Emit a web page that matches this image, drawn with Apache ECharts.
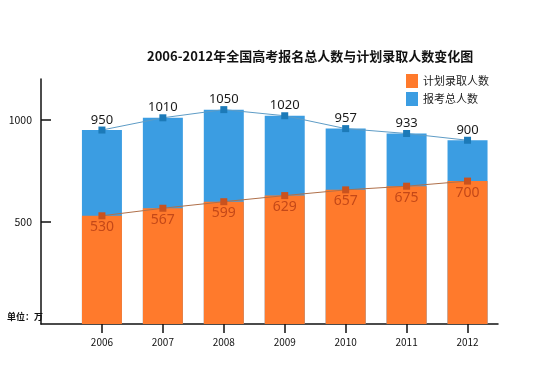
<!DOCTYPE html>
<html><head><meta charset="utf-8">
<script src="https://cdn.jsdelivr.net/npm/echarts@6/dist/echarts.min.js"></script>
<style>html,body{margin:0;padding:0;background:#fff}#c{width:550px;height:367px}</style>
</head><body><div id="c"></div>
<script>
var years = [2006, 2007, 2008, 2009, 2010, 2011, 2012];
var totalApplicants = [950, 1010, 1050, 1020, 957, 933, 900];
var plannedAdmissions = [530, 567, 599, 629, 657, 675, 700];
var yTicks = [500, 1000];
var titleText = '2006-2012年全国高考报名总人数与计划录取人数变化图';
var nameAdmit = '计划录取人数';
var nameTotal = '报考总人数';
var unitText = '单位：万';

function pairs(vals){ return years.map(function(y,i){ return [y, vals[i]]; }); }
var font = "'Noto Sans CJK SC', 'Noto Sans', sans-serif";
var chart = echarts.init(document.getElementById('c'));
chart.setOption({
  animation: false,
  backgroundColor: '#fff',
  textStyle: {fontFamily: font},
  title: {text: titleText, left: 142, top: 45,
    textStyle: {fontSize: 13, fontWeight: 'bold', color: '#111', fontFamily: font}},
  legend: {data: [nameAdmit, nameTotal], orient: 'vertical', left: 401, top: 69,
    itemWidth: 12, itemHeight: 14, itemGap: 4, icon: 'rect',
    textStyle: {fontSize: 11, color: '#222', fontFamily: font}},
  grid: {left: 41, right: 52, top: 79, bottom: 43},
  xAxis: {type: 'value', min: 2005, max: 2012.5, interval: 1,
    splitLine: {show: false},
    axisLine: {show: true, lineStyle: {color: '#111', width: 1.5}},
    axisTick: {show: true, inside: false, length: 9, customValues: years, lineStyle: {color: '#111', width: 1.5}},
    axisLabel: {customValues: years, formatter: function(v){ return String(v); }, margin: 13, fontSize: 10, color: '#111'}},
  yAxis: {type: 'value', min: 0, max: 1200, interval: 500,
    splitLine: {show: false},
    axisLine: {show: true, lineStyle: {color: '#111', width: 1.5}},
    axisTick: {show: true, inside: true, length: 10, customValues: yTicks, lineStyle: {color: '#111', width: 1.5}},
    axisLabel: {customValues: yTicks, formatter: function(v){ return String(v); }, fontSize: 10.5, color: '#111', margin: 9}},
  graphic: [{type: 'text', left: 7, top: 312, style: {text: unitText, font: 'bold 9px ' + font, fill: '#111'}}],
  series: [
    {name: nameTotal, type: 'bar', data: pairs(totalApplicants), barWidth: 40, barGap: '-100%',
      itemStyle: {color: '#3b9de2'}, z: 1},
    {name: nameAdmit, type: 'bar', data: pairs(plannedAdmissions), barWidth: 40, barGap: '-100%',
      itemStyle: {color: '#ff7a2c'}, z: 2},
    {name: 'totalLine', type: 'line', data: pairs(totalApplicants), symbol: 'rect', symbolSize: 7,
      lineStyle: {color: '#5e9cc6', width: 1}, itemStyle: {color: '#1c7ab8'}, z: 5,
      label: {show: true, position: 'top', distance: 0, fontSize: 13, color: '#1a1a1a', fontFamily: "'Noto Sans', sans-serif"}},
    {name: 'admitLine', type: 'line', data: pairs(plannedAdmissions), symbol: 'rect', symbolSize: 7,
      lineStyle: {color: '#b0704a', width: 1}, itemStyle: {color: '#c9521e'}, z: 5,
      label: {show: true, position: 'bottom', distance: 1, fontSize: 14, color: '#c44818', fontFamily: "'Noto Sans', sans-serif"}}
  ]
});
</script></body></html>
